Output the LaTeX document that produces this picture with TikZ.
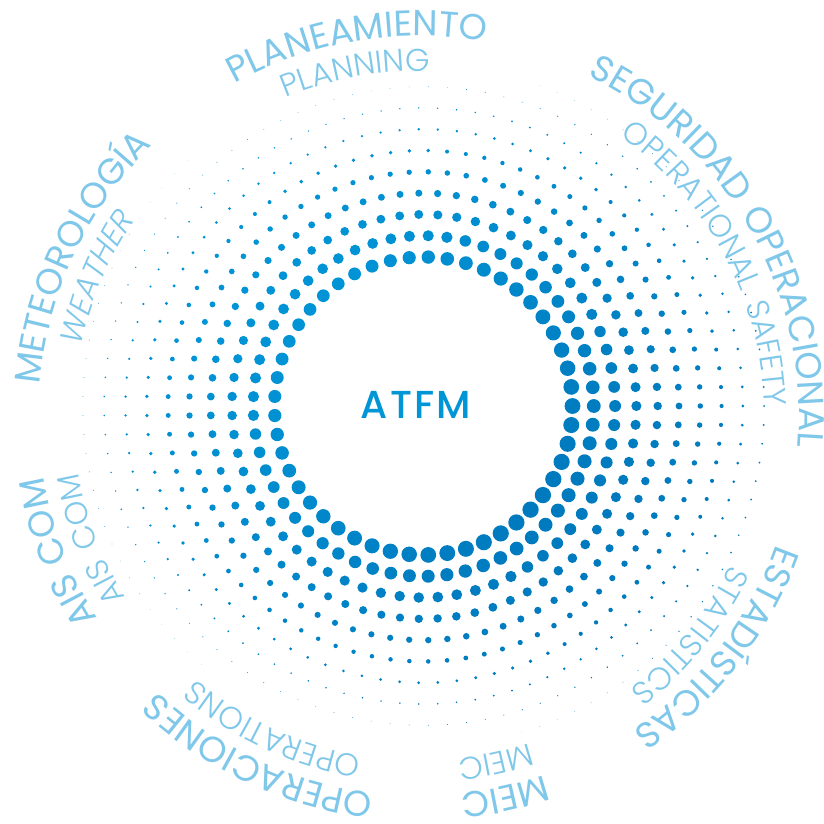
\documentclass[tikz,border=0pt]{standalone}
\usepackage{fontspec}
\setmainfont{Poppins}
\usetikzlibrary{decorations.text}

\definecolor{lbl}{RGB}{128,200,234}
\definecolor{dotlight}{RGB}{0,148,214}
\definecolor{dotdark}{RGB}{0,122,190}
\definecolor{atfmblue}{RGB}{0,150,214}

\newfontfamily\outerface[LetterSpace=6]{Poppins}
\IfFontExistsTF{Poppins Light}{%
  \newfontfamily\innerface[LetterSpace=14]{Poppins Light}%
  \newfontfamily\slantface[LetterSpace=14,FakeSlant=0.22]{Poppins Light}}{%
  \newfontfamily\innerface[LetterSpace=14]{Poppins}%
  \newfontfamily\slantface[LetterSpace=14,FakeSlant=0.22]{Poppins}}
\IfFontExistsTF{Poppins Medium}{%
  \newfontfamily\centreface[LetterSpace=6]{Poppins Medium}}{%
  \newfontfamily\centreface[LetterSpace=6]{Poppins}}

\newcommand\outerlbl{\outerface\fontsize{36}{40}\selectfont}
\newcommand\innerlbl{\innerface\fontsize{31.5}{34}\selectfont}
\newcommand\slantlbl{\slantface\fontsize{31.5}{34}\selectfont}

% text set clockwise on a circle round the label centre, centred on angle #2
\newcommand\ringtext[4]{%
  \path[shift={(419,408)}, decorate,
        decoration={text along path, text align=center, text color=lbl,
                    text={|#3|#4}}]
    (#2+85:#1) arc[start angle=#2+85, end angle=#2-85, radius=#1];}

\begin{document}
\begin{tikzpicture}[x=1pt, y=1pt]
\useasboundingbox (0,0) rectangle (823,824);
\fill[white] (0,0) rectangle (823,824);

\coordinate (dc) at (423.5,418);

% rings of dots: constant spacing along each ring, size falling outwards
\foreach \k in {0,...,9}{
  \pgfmathsetmacro\r{149+21.3*\k}
  \pgfmathtruncatemacro\n{2*round(pi*\r/19.1-0.5)+1}
  \pgfmathsetmacro\st{360/\n}
  \foreach \j in {1,...,\n}{
    \pgfmathsetmacro\a{(\j-1)*\st}
    \pgfmathsetmacro\D{14.5+1.8*cos(\a+40)}
    \pgfmathsetmacro\K{10.9+0.75*cos(\a)+1.2*cos(2*\a)}
    \pgfmathsetmacro\f{max(0.0001,1-\k/\K)}
    \pgfmathsetmacro\d{\D*pow(\f,1.7)}
    \pgfmathtruncatemacro\w{50+50*cos(\a+40)}
    \ifdim\d pt>0.35pt
      \fill[dotdark!\w!dotlight] (dc) ++(\a:\r) circle[radius=\d/2];
    \fi
  }
}

\node[font=\centreface\fontsize{39}{42}\selectfont, text=atfmblue, inner sep=0pt] (atfm) at (416,419) {ATFM};

% Spanish names outside, English names just inside
\ringtext{380}{99.5}{\outerlbl}{PLANEAMIENTO}
\ringtext{345}{100.5}{\innerlbl}{PLANNING}
\ringtext{380}{29.5}{\outerlbl}{SEGURIDAD OPERACIONAL}
\ringtext{345}{28}{\innerlbl}{OPERATIONAL SAFETY}
\ringtext{380}{-37.8}{\outerlbl}{ESTADÍSTICAS}
\ringtext{345}{-39}{\innerlbl}{STATISTICS}
\ringtext{380}{-77.3}{\outerlbl}{MEIC}
\ringtext{345}{-77.5}{\innerlbl}{MEIC}
\ringtext{380}{-115.2}{\outerlbl}{OPERACIONES}
\ringtext{345}{-115}{\innerlbl}{OPERATIONS}
\ringtext{380}{200.7}{\outerlbl}{AIS COM}
\ringtext{345}{200.6}{\innerlbl}{AIS COM}
\ringtext{380}{154.9}{\outerlbl}{METEOROLOGÍA}
\ringtext{345}{157}{\slantlbl}{WEATHER}
\end{tikzpicture}
\end{document}
